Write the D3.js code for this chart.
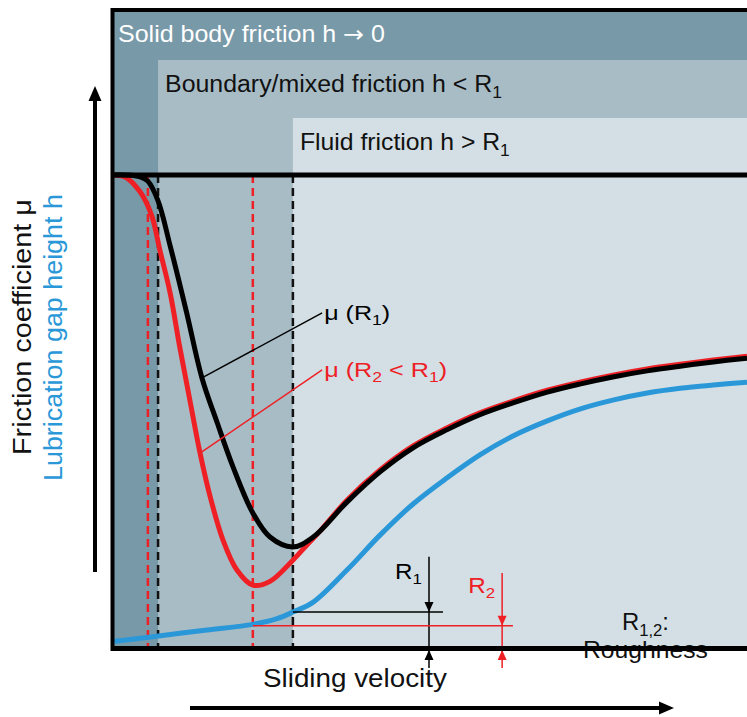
<!DOCTYPE html>
<html>
<head>
<meta charset="utf-8">
<script src="https://cdn.jsdelivr.net/npm/d3@7.9.0/dist/d3.min.js"></script>
<style>
  html, body { margin: 0; padding: 0; background: #fff; }
  svg { display: block; font-family: "Liberation Sans", Arial, sans-serif; }
</style>
</head>
<body>
<svg id="chart" width="747" height="717"></svg>
<script>
// velocity (0..100, arbitrary) vs friction / gap height (0..100, arbitrary)
const muR1 = [
  [0, 100], [2.5, 100], [4.6, 99.6], [5.8, 98.7], [7.4, 94.5], [9.3, 85.0],
  [11.9, 70.8], [14.3, 57.0], [16.7, 47.5], [19.2, 38.1], [22.3, 28.4],
  [25.0, 23.3], [28.6, 21.2], [31.8, 23.3], [37.1, 30.7], [42.3, 37.1],
  [47.5, 42.2], [52.8, 46.0], [58.0, 49.2], [63.2, 51.7], [68.6, 54.0],
  [73.7, 55.7], [78.9, 57.2], [84.3, 58.5], [89.5, 59.5], [94.7, 60.4], [100, 61.2]
];
const muR2 = [
  [0, 100], [2.2, 99.6], [4.6, 96.4], [6.4, 91.4], [7.7, 84.0], [9.3, 75.0],
  [10.8, 63.6], [12.4, 52.3], [14.0, 41.1], [15.6, 31.8], [17.6, 22.7],
  [19.8, 16.3], [22.3, 13.1], [25.0, 13.9], [28.6, 18.4], [30.8, 21.6], [32.9, 24.6],
  [37.1, 31.1], [42.3, 37.5], [47.5, 42.6], [52.8, 46.4], [58.0, 49.6], [63.2, 52.1],
  [68.6, 54.4], [73.7, 56.1], [78.9, 57.6], [84.3, 58.9], [89.5, 59.9], [94.7, 60.8], [100, 61.6]
];
const gapH = [
  [0, 1.1], [7.2, 2.3], [15.1, 3.6], [22.3, 4.8], [26.1, 6.0], [28.6, 7.4], [31.8, 9.5],
  [37.1, 16.3], [42.3, 23.7], [47.5, 30.3], [52.8, 35.8], [58.0, 40.7], [63.2, 44.7],
  [68.6, 47.9], [73.7, 50.4], [78.9, 52.3], [84.3, 53.8], [89.5, 54.8], [94.7, 55.5], [100, 56.1]
];

// friction regimes (start on velocity axis)
const regimeStart = [0, 7.4, 28.6];
const regimeLabel = [
  ["Solid body friction h ", { t: "\u2192", font: "DejaVu Sans" }, " 0"],
  ["Boundary/mixed friction h < R", ["1"]],
  ["Fluid friction h > R", ["1"]]
];
// dashed transition lines
const dashR1 = [7.4, 28.6];
const dashR2 = [5.8, 22.3];

// roughness depths (gap height units)
const roughness = [
  { sub: "1", level: 7.4, from: 28.6, to: 52.2, at: 50.0, top: 19.1 },
  { sub: "2", level: 4.5, from: 22.3, to: 63.2, at: 61.5, top: 15.7 }
];

const RED = "#ee2026", BLUE = "#2a98d8", INK = "#111";
const bandFill = ["#7899a8", "#a8bcc5", "#d3dfe4"];
const bandTop = [10, 60, 118];
const bandText = ["#fff", INK, INK];
const bandTextW = [267, 337, 210];

const svg = d3.select("#chart");
const x = d3.scaleLinear().domain([0, 100]).range([111, 747]);
const y = d3.scaleLinear().domain([0, 100]).range([647, 175]);

// text with subscripts, optionally stretched to a given width
function richText(parent, parts, o) {
  const g = parent.append("g")
    .attr("transform", `translate(${o.x},${o.y}) rotate(${o.rotate || 0})`);
  const t = g.append("text")
    .attr("font-size", o.size)
    .attr("fill", o.color || INK)
    .attr("text-anchor", o.anchor || "start");
  let shift = 0;
  parts.forEach(p => {
    const sub = Array.isArray(p);
    const s = t.append("tspan").text(sub ? p[0] : (p.t || p));
    if (p.font) s.attr("font-family", p.font);
    if (sub) {
      s.attr("font-size", o.size * 0.7).attr("dy", o.size * 0.24 - shift);
      shift = o.size * 0.24;
    } else if (shift) {
      s.attr("dy", -shift);
      shift = 0;
    }
  });
  const k = o.width ? o.width / t.node().getBBox().width : (o.stretch || 1);
  if (k !== 1) t.attr("transform", `scale(${k},1)`);
  return t;
}

function arrowHead(parent, tipX, tipY, dir, len, half, color) {
  // dir: "up" | "down" | "right"
  let pts;
  if (dir === "up") pts = [[tipX, tipY], [tipX - half, tipY + len], [tipX + half, tipY + len]];
  else if (dir === "down") pts = [[tipX, tipY], [tipX - half, tipY - len], [tipX + half, tipY - len]];
  else pts = [[tipX, tipY], [tipX - len, tipY - half], [tipX - len, tipY + half]];
  parent.append("path").attr("d", "M" + pts.join("L") + "Z").attr("fill", color);
}

/* regime bands */
const bands = svg.append("g");
regimeStart.forEach((s, i) => {
  bands.append("rect")
    .attr("x", x(s)).attr("y", bandTop[i])
    .attr("width", x(100) - x(s)).attr("height", y(0) - bandTop[i])
    .attr("fill", bandFill[i]);
  richText(bands, regimeLabel[i], {
    x: x(s) + 7, y: bandTop[i] + 32, size: 23, color: bandText[i], width: bandTextW[i]
  });
});

/* dashed transition lines */
const dashes = svg.append("g").attr("stroke-width", 2.5).attr("stroke-dasharray", "8,5");
dashR2.forEach(v => dashes.append("line")
  .attr("x1", x(v)).attr("x2", x(v)).attr("y1", y(100)).attr("y2", y(0) + 3)
  .attr("stroke", RED));
dashR1.forEach(v => dashes.append("line")
  .attr("x1", x(v)).attr("x2", x(v)).attr("y1", y(100)).attr("y2", y(0))
  .attr("stroke", INK));

/* curves */
const line = d3.line().x(d => x(d[0])).y(d => y(d[1])).curve(d3.curveCatmullRom.alpha(0.5));
svg.append("path").datum(gapH).attr("d", line)
  .attr("fill", "none").attr("stroke", BLUE).attr("stroke-width", 5);
svg.append("path").datum(muR2).attr("d", line)
  .attr("fill", "none").attr("stroke", RED).attr("stroke-width", 5);
svg.append("path").datum(muR1).attr("d", line)
  .attr("fill", "none").attr("stroke", "#000").attr("stroke-width", 5);

/* curve labels with leader lines */
const notes = [
  { series: muR1, at: 14.3, tx: 33.2, ty: 70.8, color: "#000",
    parts: ["\u03bc (R", ["1"], ")"], w: 66 },
  { series: muR2, at: 14.0, tx: 33.2, ty: 58.7, color: RED,
    parts: ["\u03bc (R", ["2"], " < R", ["1"], ")"], w: 123 }
];
notes.forEach(n => {
  const p = n.series.find(d => d[0] === n.at);
  svg.append("line")
    .attr("x1", x(p[0])).attr("y1", y(p[1]))
    .attr("x2", x(n.tx)).attr("y2", y(n.ty))
    .attr("stroke", n.color).attr("stroke-width", 1.5);
  richText(svg, n.parts, {
    x: x(n.tx) + 2, y: y(n.ty) + 7, size: 21, color: n.color, width: n.w
  });
});

/* roughness markers */
roughness.forEach((r, i) => {
  const c = i === 0 ? "#000" : RED;
  const g = svg.append("g");
  g.append("line")
    .attr("x1", x(r.from)).attr("x2", x(r.to))
    .attr("y1", y(r.level)).attr("y2", y(r.level))
    .attr("stroke", c).attr("stroke-width", 1.5);
  g.append("line")
    .attr("x1", x(r.at)).attr("x2", x(r.at))
    .attr("y1", y(r.top)).attr("y2", y(0) + 21)
    .attr("stroke", c).attr("stroke-width", 1.5);
  arrowHead(g, x(r.at), y(r.level), "down", 10, 4.5, c);
  arrowHead(g, x(r.at), y(0) + 3, "up", 10, 4.5, c);
  richText(g, ["R", [r.sub]], {
    x: x(r.at) - 7, y: y(r.level) - 33, size: 22, color: c, anchor: "end", stretch: 1.1
  });
});

richText(svg, ["R", ["1,2"], ":"], { x: 622, y: 630, size: 23, width: 47 });
richText(svg, ["Roughness"], { x: 583, y: 658, size: 23, width: 125 });

/* frame */
const frame = svg.append("g").attr("stroke", "#000");
frame.append("line").attr("x1", x(0)).attr("x2", x(100)).attr("y1", 10).attr("y2", 10)
  .attr("stroke-width", 4);
frame.append("line").attr("x1", x(0)).attr("x2", x(100)).attr("y1", y(100)).attr("y2", y(100))
  .attr("stroke-width", 5);
frame.append("line").attr("x1", x(0)).attr("x2", x(100)).attr("y1", y(0) + 1.5).attr("y2", y(0) + 1.5)
  .attr("stroke-width", 5);
frame.append("line").attr("x1", x(0) + 1.5).attr("x2", x(0) + 1.5).attr("y1", 8).attr("y2", y(0) + 4)
  .attr("stroke-width", 4);

/* axis arrows and titles */
svg.append("line").attr("x1", 95).attr("x2", 95).attr("y1", 572).attr("y2", 100)
  .attr("stroke", "#000").attr("stroke-width", 4);
arrowHead(svg, 95, 86, "up", 15, 6.5, "#000");
svg.append("line").attr("x1", 190).attr("x2", 660).attr("y1", 708).attr("y2", 708)
  .attr("stroke", "#000").attr("stroke-width", 4);
arrowHead(svg, 674, 708, "right", 15, 6.5, "#000");

richText(svg, ["Sliding velocity"], { x: 263, y: 687, size: 26, width: 184 });
richText(svg, ["Friction coefficient \u03bc"], { x: 31, y: 455, size: 26, rotate: -90, width: 256 });
richText(svg, ["Lubrication gap height h"], { x: 62, y: 481, size: 26, rotate: -90, width: 287, color: BLUE });
</script>
</body>
</html>
